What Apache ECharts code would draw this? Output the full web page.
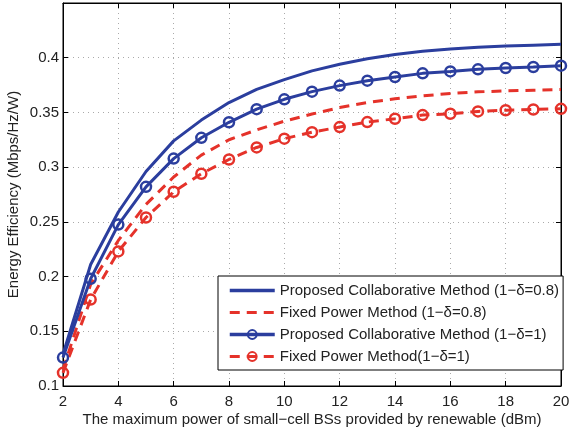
<!DOCTYPE html>
<html>
<head>
<meta charset="utf-8">
<script src="https://cdn.jsdelivr.net/npm/echarts@6/dist/echarts.min.js"></script>
<style>
html,body{margin:0;padding:0;background:#fff;}
#chart{width:570px;height:427px;}
</style>
</head>
<body>
<div id="chart"></div>
<script>
var xValues = [2,3,4,5,6,7,8,9,10,11,12,13,14,15,16,17,18,19,20];
var proposed08 = [0.129,0.211,0.259,0.296,0.324,0.343,0.359,0.371,0.380,0.388,0.394,0.399,0.403,0.406,0.408,0.4095,0.4106,0.4115,0.4124];
var fixed08    = [0.115,0.193,0.233,0.266,0.291,0.311,0.325,0.334,0.342,0.3485,0.3545,0.359,0.3624,0.3652,0.3673,0.3688,0.3697,0.3703,0.3709];
var proposed1  = [0.126,0.198,0.2475,0.282,0.3078,0.3268,0.341,0.353,0.362,0.369,0.3745,0.379,0.3824,0.3857,0.3875,0.3894,0.3906,0.3915,0.3927];
var fixed1     = [0.112,0.179,0.223,0.254,0.2775,0.294,0.307,0.318,0.326,0.332,0.3366,0.3412,0.3442,0.3476,0.3488,0.3509,0.352,0.3527,0.3533];
var seriesNames = [
  'Proposed Collaborative Method (1\u2212\u03b4=0.8)',
  'Fixed Power Method (1\u2212\u03b4=0.8)',
  'Proposed Collaborative Method (1\u2212\u03b4=1)',
  'Fixed Power Method(1\u2212\u03b4=1)'
];
var xAxisName = 'The maximum power of small\u2212cell BSs provided by renewable (dBm)';
var yAxisName = 'Energy Efficiency (Mbps/Hz/W)';

var BLUE = '#2b3e9e', RED = '#e5322a';
function pairs(ys){ return xValues.map(function(x,i){ return [x, ys[i]]; }); }
var font = 'Liberation Sans, Arial, Helvetica, sans-serif';

var chart = echarts.init(document.getElementById('chart'), null, {renderer:'canvas'});
var axisLineStyle = {show:true, lineStyle:{color:'#000', width:1}};
var axisTickStyle = {show:true, inside:true, length:5, lineStyle:{color:'#000'}};
chart.setOption({
  animation:false,
  backgroundColor:'#fff',
  textStyle:{fontFamily:font},
  grid:{left:63, right:9, top:3, bottom:41, show:true, borderColor:'#000', borderWidth:1,
        backgroundColor:'#fff', containLabel:false, outerBoundsMode:'none'},
  xAxis:[{
    type:'value', min:2, max:20, interval:2,
    name:xAxisName, nameLocation:'middle', nameGap:26, nameMoveOverlap:false,
    nameTextStyle:{fontSize:15, color:'#222', fontFamily:font},
    axisLine:axisLineStyle, axisTick:axisTickStyle,
    axisLabel:{fontSize:15, color:'#222', margin:8, fontFamily:font},
    splitLine:{show:true, lineStyle:{color:'#aaa', type:[1,4], width:1}}
  },{
    type:'value', min:2, max:20, interval:2, position:'top',
    axisLine:axisLineStyle, axisTick:axisTickStyle,
    axisLabel:{show:false}, splitLine:{show:false}
  }],
  yAxis:[{
    type:'value', min:0.1, max:0.45, interval:0.05,
    name:yAxisName, nameLocation:'middle', nameGap:42, nameMoveOverlap:false,
    nameTextStyle:{fontSize:15, color:'#222', fontFamily:font},
    axisLine:axisLineStyle, axisTick:axisTickStyle,
    axisLabel:{fontSize:15, color:'#222', margin:4, showMaxLabel:false, fontFamily:font},
    splitLine:{show:true, lineStyle:{color:'#aaa', type:[1,4], width:1}}
  },{
    type:'value', min:0.1, max:0.45, interval:0.05, position:'right',
    axisLine:axisLineStyle, axisTick:axisTickStyle,
    axisLabel:{show:false}, splitLine:{show:false}
  }],
  legend:{
    orient:'vertical', left:218, top:276,
    padding:[7,4,6,10], itemGap:7, itemWidth:45, itemHeight:11,
    backgroundColor:'#fff', borderColor:'#000', borderWidth:1,
    textStyle:{fontSize:15, color:'#222', fontFamily:font},
    data:[
      {name:seriesNames[0], itemStyle:{opacity:0}, lineStyle:{width:3.5}},
      {name:seriesNames[1], itemStyle:{opacity:0}, lineStyle:{width:3}},
      {name:seriesNames[2], lineStyle:{width:3.5}},
      {name:seriesNames[3], lineStyle:{width:3}}
    ]
  },
  series:[
    {name:seriesNames[0], type:'line', data:pairs(proposed08), symbol:'none', z:4,
     lineStyle:{color:BLUE, width:3}, itemStyle:{color:BLUE}},
    {name:seriesNames[1], type:'line', data:pairs(fixed08), symbol:'none', z:3,
     lineStyle:{color:RED, width:3, type:[10,7]}, itemStyle:{color:RED}},
    {name:seriesNames[2], type:'line', data:pairs(proposed1), symbol:'circle', symbolSize:10, z:4,
     lineStyle:{color:BLUE, width:3}, itemStyle:{color:'rgba(255,255,255,0)', borderColor:BLUE, borderWidth:2.5}},
    {name:seriesNames[3], type:'line', data:pairs(fixed1), symbol:'circle', symbolSize:10, z:3,
     lineStyle:{color:RED, width:3, type:[10,7]}, itemStyle:{color:'rgba(255,255,255,0)', borderColor:RED, borderWidth:2.5}}
  ]
});
</script>
</body>
</html>
